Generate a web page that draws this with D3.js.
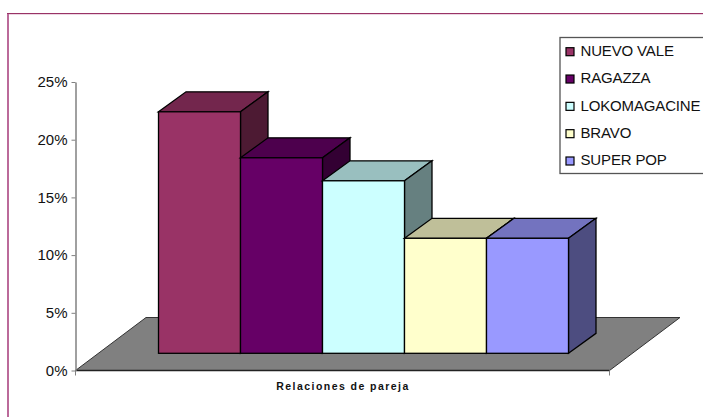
<!DOCTYPE html>
<html>
<head>
<meta charset="utf-8">
<script src="https://cdn.jsdelivr.net/npm/d3@7"></script>
<style>
body { margin: 0; background: #fff; }
text { font-family: "Liberation Sans", Arial, sans-serif; fill: #111; }
</style>
</head>
<body>
<div id="chart"></div>
<script>
const categories = ["Relaciones de pareja"];
const seriesNames = ["NUEVO VALE", "RAGAZZA", "LOKOMAGACINE", "BRAVO", "SUPER POP"];
const seriesValues = [21, 17, 15, 10, 10];
const seriesColors = ["#993366", "#660066", "#ccffff", "#ffffcc", "#9999ff"];
const yTicks = [0, 5, 10, 15, 20, 25];

const width = 703, height = 417;
const depthX = 27.5, depthY = 20;      // offset of the back face of a bar

const svg = d3.select("#chart").append("svg")
    .attr("width", width)
    .attr("height", height)
    .style("display", "block");

// outer frame
svg.append("line")
    .attr("x1", 8).attr("x2", 8)
    .attr("y1", 13).attr("y2", 417)
    .attr("stroke", "#bb6a9a")
    .attr("stroke-width", 2);
svg.append("line")
    .attr("x1", 7).attr("x2", 703)
    .attr("y1", 13.5).attr("y2", 13.5)
    .attr("stroke", "#993366")
    .attr("stroke-width", 1);
svg.append("line")
    .attr("x1", 9).attr("x2", 703)
    .attr("y1", 14.5).attr("y2", 14.5)
    .attr("stroke", "#ecd6e2")
    .attr("stroke-width", 1);

const yScale = d3.scaleLinear().domain([0, 25]).range([370.5, 82]);
const barScale = d3.scaleLinear().domain([0, 25]).range([353.3, 65.8]);
const xScale0 = d3.scaleBand().domain(categories).range([75.5, 609.5]);
const xScale1 = d3.scaleBand().domain(seriesNames).range([158.5, 568.5]);

// floor
const floorY = yScale(0);
const floorBack = floorY - 53;
svg.append("path")
    .attr("d", `M75.5,${floorY}L146,${floorBack}H680L609.5,${floorY}Z`)
    .attr("fill", "#808080")
    .attr("stroke", "#333")
    .attr("stroke-width", 1);
svg.append("line")
    .attr("x1", 75.5).attr("x2", 609.5)
    .attr("y1", floorY).attr("y2", floorY)
    .attr("stroke", "#222")
    .attr("stroke-width", 1.5);

// bars
const bars = svg.selectAll(".bar")
    .data(seriesNames)
    .enter().append("g")
    .attr("class", "bar");

const shade = (c, k) => {
    const o = d3.rgb(c);
    return d3.rgb(o.r * k, o.g * k, o.b * k).formatHex();
};
const barTop = (d, i) => barScale(seriesValues[i]);
const barBottom = barScale(0);

bars.append("path")
    .attr("d", (d, i) => {
        const x = xScale1(d), w = xScale1.bandwidth(), y = barTop(d, i);
        return `M${x},${y}l${depthX},${-depthY}h${w}l${-depthX},${depthY}Z`;
    })
    .attr("fill", (d, i) => shade(seriesColors[i], 0.75))
    .attr("stroke", "#000")
    .attr("stroke-width", 1.3);

bars.append("path")
    .attr("d", (d, i) => {
        const x = xScale1(d) + xScale1.bandwidth(), y = barTop(d, i);
        return `M${x},${y}l${depthX},${-depthY}V${barBottom - depthY}l${-depthX},${depthY}Z`;
    })
    .attr("fill", (d, i) => shade(seriesColors[i], 0.5))
    .attr("stroke", "#000")
    .attr("stroke-width", 1.3);

bars.append("rect")
    .attr("x", d => xScale1(d))
    .attr("y", (d, i) => barTop(d, i))
    .attr("width", xScale1.bandwidth())
    .attr("height", (d, i) => barBottom - barTop(d, i))
    .attr("fill", (d, i) => seriesColors[i])
    .attr("stroke", "#000")
    .attr("stroke-width", 1.3);

// y axis
const yAxis = d3.axisLeft(yScale)
    .tickValues(yTicks)
    .tickFormat(d => d + "%")
    .tickSize(4)
    .tickSizeOuter(0);
const yG = svg.append("g").attr("transform", "translate(75.5,0)").call(yAxis);
yG.selectAll("line, path").attr("stroke", "#808080");
yG.select("path").attr("stroke-width", 1.5);
yG.selectAll("text").attr("font-size", 15).attr("x", -8).attr("fill", "#222");

// x axis end ticks and label
const xG = svg.append("g");
xG.selectAll("line")
    .data(xScale0.range())
    .enter().append("line")
    .attr("x1", d => d).attr("x2", d => d)
    .attr("y1", floorY).attr("y2", floorY + 5)
    .attr("stroke", "#808080");
xG.selectAll("text")
    .data(categories)
    .enter().append("text")
    .attr("x", xScale0(categories[0]) + xScale0.bandwidth() / 2 + 0.5)
    .attr("y", 389.5)
    .attr("text-anchor", "middle")
    .attr("font-size", 10.5)
    .attr("font-weight", "bold")
    .attr("letter-spacing", 1.45)
    .text(d => d);

// legend
const legend = svg.append("g");
legend.append("rect")
    .attr("x", 560).attr("y", 37.5)
    .attr("width", 150).attr("height", 136)
    .attr("fill", "#fff")
    .attr("stroke", "#555")
    .attr("stroke-width", 1.3);
const legendRow = d3.scalePoint().domain(seriesNames).range([51.7, 161]);
const legendItems = legend.selectAll(".item")
    .data(seriesNames)
    .enter().append("g")
    .attr("class", "item")
    .attr("transform", d => `translate(0,${legendRow(d)})`);
legendItems.append("rect")
    .attr("x", 566).attr("y", -4)
    .attr("width", 8).attr("height", 8)
    .attr("fill", (d, i) => seriesColors[i])
    .attr("stroke", "#000")
    .attr("stroke-width", 1.2);
legendItems.append("text")
    .attr("x", 580.5).attr("y", 4.3)
    .attr("font-size", 15)
    .attr("letter-spacing", -0.15)
    .attr("fill", "#222")
    .text(d => d);
</script>
</body>
</html>
